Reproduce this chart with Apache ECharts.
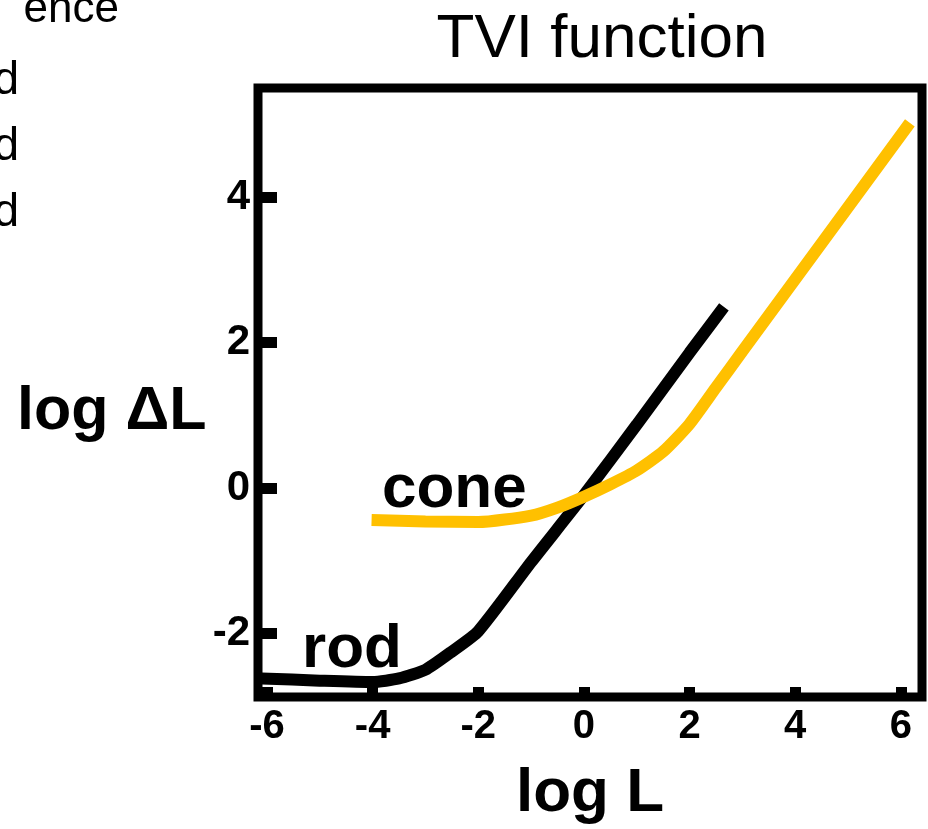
<!DOCTYPE html>
<html>
<head>
<meta charset="utf-8">
<style>html,body{margin:0;padding:0;background:#fff;}#chart{width:928px;height:829px;}</style>
<script src="https://cdn.jsdelivr.net/npm/echarts@6/dist/echarts.min.js"></script>
</head>
<body>
<div id="chart"></div>
<script>
// Data
const rodX  = [-6.1, -5, -4, -3.5, -3, -2.5, -2, -1, 0, 1, 2, 2.65];
const rodY  = [-2.62, -2.65, -2.67, -2.62, -2.5, -2.25, -1.97, -1.02, -0.1, 0.87, 1.86, 2.49];
const coneX = [-4.02, -3, -2, -1, -0.5, 0, 0.5, 1, 1.5, 2, 2.5, 3, 6.17];
const coneY = [-0.44, -0.46, -0.47, -0.38, -0.27, -0.12, 0.05, 0.24, 0.5, 0.88, 1.38, 1.88, 5.02];
const xTicks = [-6, -4, -2, 0, 2, 4, 6];
const yTicks = [-2, 0, 2, 4];

const font = '"Liberation Sans", Arial, sans-serif';
const chart = echarts.init(document.getElementById('chart'));
const pair = (xs, ys) => xs.map((x, i) => [x, ys[i]]);

chart.setOption({
  animation: false,
  backgroundColor: '#fff',
  title: {
    text: 'TVI function', left: 597, top: 4, textAlign: 'center',
    textStyle: {fontFamily: font, fontSize: 62, fontWeight: 'normal', color: '#000'}
  },
  grid: {left: 258, right: 6, top: 88, bottom: 132, show: true, borderColor: '#000', borderWidth: 9,
         containLabel: false, outerBoundsMode: 'none'},
  xAxis: {
    type: 'value', min: -6.17, max: 6.4,
    name: 'log L', nameLocation: 'middle', nameGap: 66,
    nameTextStyle: {fontFamily: font, fontSize: 62, fontWeight: 'bold', color: '#000'},
    axisLine: {show: false, onZero: false},
    splitLine: {show: false},
    axisTick: {show: true, inside: true, length: 10, customValues: xTicks, lineStyle: {color: '#000', width: 11}},
    axisLabel: {customValues: xTicks, margin: 10, fontFamily: font, fontSize: 40, fontWeight: 'bold', color: '#000'}
  },
  yAxis: {
    type: 'value', min: -2.875, max: 5.5,
    axisLine: {show: false, onZero: false},
    splitLine: {show: false},
    axisTick: {show: true, inside: true, length: 19, customValues: yTicks, lineStyle: {color: '#000', width: 11}},
    axisLabel: {customValues: yTicks, margin: 8, fontFamily: font, fontSize: 42, fontWeight: 'bold', color: '#000', padding: [10, 0, 0, 0]}
  },
  graphic: [
    {type: 'text', left: 17, top: 382, style: {text: 'log ΔL', font: 'bold 61px ' + font, fill: '#000'}},
    {type: 'text', x: 382, y: 459, style: {text: 'cone', font: 'bold 62px ' + font, fill: '#000'}},
    {type: 'text', x: 302, y: 619, style: {text: 'rod', font: 'bold 62px ' + font, fill: '#000'}},
    {type: 'text', x: 119, y: -12, style: {text: 'ence', font: '44px ' + font, fill: '#000', textAlign: 'right'}},
    {type: 'text', x: 19, y: 58, style: {text: 'd', font: '46px ' + font, fill: '#000', textAlign: 'right'}},
    {type: 'text', x: 19, y: 124, style: {text: 'd', font: '46px ' + font, fill: '#000', textAlign: 'right'}},
    {type: 'text', x: 19, y: 190, style: {text: 'd', font: '46px ' + font, fill: '#000', textAlign: 'right'}}
  ],
  series: [
    {name: 'rod', type: 'line', data: pair(rodX, rodY), showSymbol: false, smooth: 0.2,
     lineStyle: {color: '#000', width: 12, cap: 'butt'}},
    {name: 'cone', type: 'line', data: pair(coneX, coneY), showSymbol: false, smooth: 0.2,
     lineStyle: {color: '#FFC000', width: 12, cap: 'butt'}}
  ]
});
</script>
</body>
</html>
